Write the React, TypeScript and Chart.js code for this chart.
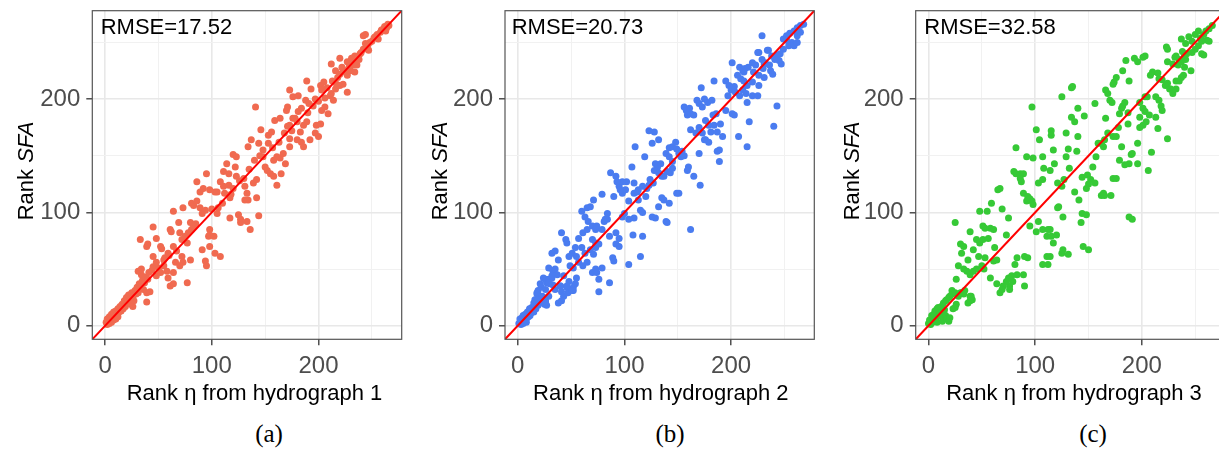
import React, { useEffect, useRef } from "react";
import { Chart, registerables } from "chart.js";

Chart.register(...registerables);

const SANS = "'Liberation Sans', Arial, sans-serif";
const SERIF = "'Liberation Serif', 'Times New Roman', serif";

const axisMin = -12;
const axisMax = 278;
const gridValues = [0, 50, 100, 150, 200, 250];
const labelValues = [0, 100, 200];
const rmseLabels = ["RMSE=17.52", "RMSE=20.73", "RMSE=32.58"];
const xTitles = ["Rank η from hydrograph 1", "Rank η from hydrograph 2", "Rank η from hydrograph 3"];
const yTitleParts = ["Rank ", "SFA"];
const captions = ["(a)", "(b)", "(c)"];
const pointColors = ["#F06A50", "#4A7CF0", "#36C936"];
const lineColor = "#FF0000";

// [rank eta, rank SFA]
const hydrograph1: [number, number][] = [
  [1,3],[2,1],[2,6],[3,4],[4,8],[4,2],[5,5],[6,10],[6,3],[7,7],[8,12],[8,5],[9,9],[10,13],[10,6],[11,10],[12,15],[12,8],[13,12],[14,17],
  [15,13],[16,19],[17,15],[18,22],[19,17],[20,25],[21,20],[22,27],[23,23],[24,19],[25,29],[26,25],[26,17],[27,22],[28,31],[29,28],[30,34],[31,29],[32,37],[33,33],
  [34,45],[35,40],[36,32],[37,38],[38,43],[39,29],[39,21],[40,41],[41,47],[42,30],[44,49],[45,52],[31,48],[34,50],[48,44],[50,51],[52,47],
  [33,76],[39,70],[40,72],[45,87],[48,77],[52,70],[53,68],[45,61],[48,56],[55,53],[58,48],[59,42],[61,35],[64,37],[64,47],[66,56],[59,64],[64,70],[55,58],[64,101],
  [73,104],[61,85],[62,83],[69,91],[70,82],[72,76],[77,73],[67,66],[72,61],[73,56],[70,53],[77,38],[80,58],[81,85],[83,88],[80,91],[81,108],[86,127],[89,118],[83,106],
  [86,110],[89,104],[91,99],[92,121],[95,134],[94,102],[98,120],[91,67],[94,57],[95,53],[97,79],[98,80],[102,79],[98,70],[103,64],[108,61],[98,85],[103,118],[105,118],[105,99],
  [106,104],[108,127],[111,123],[111,136],[116,134],[114,143],[112,117],[117,113],[120,121],[116,124],[117,95],[122,140],[123,132],[120,151],[123,149],[125,98],[127,94],[127,91],[130,130],[131,123],
  [133,117],[134,111],[131,111],[133,92],[136,85],[134,158],[137,164],[139,126],[142,129],[144,97],[142,113],[141,193],[146,173],[144,161],[148,149],[150,140],[152,137],[148,155],[153,161],[153,168],
  [156,171],[155,134],[158,132],[158,146],[161,149],[159,181],[164,183],[161,124],[165,134],[164,148],[167,152],[169,143],[170,190],[171,193],[173,177],[171,176],[173,165],[176,183],[178,183],[181,189],
  [173,208],[176,202],[181,203],[173,158],[180,164],[184,162],[186,177],[189,180],[183,171],[184,192],[188,199],[191,196],[186,158],[192,164],[197,170],[189,216],[193,209],[197,200],[198,177],[202,178],
  [200,167],[202,212],[205,215],[203,208],[203,190],[206,193],[209,187],[206,201],[211,203],[212,205],[214,199],[216,209],[212,231],[216,225],[220,222],[220,236],[217,213],[220,212],[223,213],[227,206],
  [223,226],[227,221],[230,225],[227,233],[231,236],[234,238],[233,230],[236,230],[234,224],[239,240],[242,244],[244,249],[242,256],[244,257],[245,245],[248,250],[252,254],[255,257],[258,259],[261,262],
  [264,263],[266,265],[56,60],[60,62],[75,79],[78,82],[85,90],[100,103],[110,108],[118,116],[126,128],[135,138],[140,146],[145,150],[157,157],[163,162],[168,170],[175,172],[180,180],[190,188],
  [195,194],[200,198],[208,210],[213,216],[218,219],[225,224],[229,229],[232,233],[237,237],[240,241],[246,247],[250,251],[253,255],[256,253],[259,261],[262,264],[263,260],[265,266],[247,243],[238,235],
  [235,233],[222,228],
];

const hydrograph2: [number, number][] = [
  [1,2],[2,6],[3,1],[4,7],[5,2],[5,9],[6,4],[7,10],[8,3],[8,6],[9,12],[10,8],[11,15],[11.5,9],[12,11],[13,16],[14,13],[15,20],[15,12],[16,23],
  [17,15],[18,28],[19,31],[19,18],[21,26],[22,34],[22,21],[24,23],[24,42],[26,20],[26,41],[27,18],[27,38],[29,41],[30,37],[32,42],[33,36],[33,48],[35,50],[37,45],
  [38,20],[40,35],[41,30],[43,26],[46,34],[47,29],[51,31],[52,34],[54,37],[55,42],
  [41,82],[45,76],[46,73],[32,64],[35,66],[38,58],[48,61],[51,64],[54,69],[49,53],[52,51],[57,56],[55,61],[43,44],[48,39],[51,32],[52,31],[40,35],[41,22],[46,35],
  [29,51],[32,44],[29,38],[35,32],[21,37],[26,32],[29,26],[23,26],[26,22],[25,19],[18,29],[19,23],
  [71,111],[79,116],[60,101],[65,104],[68,105],[63,96],[66,92],[57,77],[61,82],[65,85],[70,88],[73,85],[74,88],[70,76],[73,73],[79,85],[81,92],[84,94],[60,69],[63,64],
  [68,67],[71,63],[73,69],[76,72],[61,53],[65,56],[70,47],[73,50],[74,47],[79,51],[76,41],[76,30],[86,38],
  [92,82],[95,77],[92,72],[95,70],[89,60],[90,57],[86,79],[82,94],[84,99],[109,95],[104,94],[108,80],[117,79],[104,54],[115,61],
  [113,111],[115,102],[117,100],[120,114],[121,121],[123,124],[113,120],[117,123],[109,117],[112,118],[107,140],[109,126],[102,127],[98,117],[101,120],[104,110],[95,123],[96,120],[98,127],[92,132],
  [93,127],[87,135],[90,114],[98,96],[100,99],
  [128,171],[132,164],[126,161],[123,172],[119,149],[110,158],[129,143],[131,140],[128,137],[132,135],[135,132],[134,143],[137,132],[124,129],[127,126],[135,113],[137,111],[142,108],[139,92],[140,91],
  [126,96],[129,95],[132,105],[149,117],[151,117],
  [142,157],[145,158],[148,162],[139,152],[142,149],[145,145],[140,136],[143,135],[145,139],[149,156],[151,152],[153,149],[156,150],[154,154],[165,132],[160,140],[159,137],[171,124],[162,85],
  [156,193],[158,190],[161,192],[159,186],[162,187],[165,186],[162,173],[167,170],[170,175],[173,170],[175,164],[176,181],[179,177],[181,171],[183,186],[186,187],[184,177],[187,171],[190,178],[192,167],
  [176,164],[179,162],[187,154],[189,155],[189,145],[170,152],
  [168,199],[170,196],[173,193],[172,210],[175,200],[178,197],[182,199],[184,216],
  [195,216],[198,212],[200,208],[197,203],[203,211],[204,206],[201,187],[203,186],[195,190],[207,167],[215,158],[217,180],[240,176],[243,194],
  [201,232],[208,228],[211,225],[213,227],[216,228],[206,221],[209,218],[212,224],[220,232],[223,230],[221,224],[226,221],[229,235],[232,232],[236,230],[237,225],[239,222],[231,219],[226,212],[220,215],
  [220,203],[225,203],[212,216],[215,212],[211,208],[208,203],[214,205],[215,197],[229,256],[226,241],[234,243],
  [243,238],[245,234],[247,231],[249,253],[252,256],[255,258],[259,260],[262,263],[265,265],[268,266],[262,256],[257,250],[254,247],[259,247],[262,250],[265,259],[249,244],[246,240],[243,239],[252,252],
  [241,235],[238,238],[235,243],[231,231],[230,227],[225,241],
];

const hydrograph3: [number, number][] = [
  [0,2],[1,5],[2,1],[3,6],[3,9],[4,3],[5,10],[6,13],[7,6],[8,15],[8,3],[9,16],[10,9],[11,12],[12,17],[12,9],[13,4],[14,20],[15,14],[16,22],
  [16,9],[17,23],[17,6],[19,25],[19,4],[20,26],[20,7],[22,28],[23,15],[25,16],[26,19],[22,31],[25,29],[28,26],[31,29],[34,31],[39,26],[41,23],[37,20],[30,29],
  [33,28],[39,22],[40,26],
  [125,202],[134,210],[135,211],[97,193],[140,192],[146,185],[134,184],[137,180],[156,196],[140,167],[139,154],[129,170],[115,172],[115,168],[101,173],[104,164],[117,155],[131,156],[129,149],[107,149],
  [108,139],[118,143],[132,139],[98,148],[92,149],[82,157],[80,136],[82,134],[86,134],[89,134],[86,130],[87,127],[89,117],[93,114],[95,111],[92,110],[97,110],[98,107],[95,112],[103,126],
  [107,129],[114,137],[121,126],[125,123],[127,129],[144,131],[149,133],[152,129],[150,125],[154,140],[157,149],[159,161],[162,161],[164,158],[165,164],[168,170],[148,121],[156,126],[162,115],[164,117],
  [165,115],[171,115],[173,130],[137,118],[141,111],[144,99],[148,98],[143,91],[145,70],[150,67],[121,104],[122,105],[126,96],[125,64],[126,67],[131,63],[107,85],[111,79],[112,85],[114,85],
  [115,79],[120,80],[117,73],[111,61],[114,61],[112,54],[103,92],[95,88],[101,83],[107,54],[93,60],[90,61],[83,60],[81,54],[83,45],[79,39],[76,35],[73,39],[75,42],[78,44],
  [76,32],[70,35],[67,29],[69,32],[64,37],[89,45],[90,35],[61,57],[64,58],[58,42],[62,69],[73,80],[75,95],[69,103],[58,86],[61,85],[53,86],[51,88],[48,101],[55,101],
  [59,108],[65,120],[67,121],[39,83],[25,91],[30,72],[33,70],[31,64],[37,58],[42,67],[45,76],[48,73],[51,76],[56,77],[47,61],[53,60],[33,50],[36,48],[39,45],[42,48],
  [45,50],[28,53],[26,41],[50,53],[52,50],
  [203,238],[201,237],[193,236],[196,233],[185,234],[182,225],[188,216],[176,219],[174,215],[173,213],[166,208],[168,205],[170,199],[172,197],[184,197],[182,194],[181,192],[179,187],[187,188],[187,178],
  [166,183],[198,197],[201,192],[198,184],[201,177],[198,175],[203,202],[205,202],[203,189],[204,180],[207,186],[210,224],[208,221],[215,223],[216,218],[219,217],[213,202],[216,199],[218,194],[219,190],
  [213,184],[215,174],[224,214],[226,209],[222,212],[227,209],[229,205],[232,209],[232,216],[235,216],[237,219],[239,221],[234,230],[231,237],[237,233],[240,228],[246,225],[224,233],[235,235],[241,235],
  [242,240],[209,153],[206,137],[224,165],[196,161],[190,151],[191,152],[196,143],[188,143],[184,142],[179,146],[176,130],[181,158],[188,96],[191,94],[173,167],[176,167],[178,175],
  [223,246],[224,244],[237,253],[241,249],[244,255],[247,251],[250,257],[253,260],[255,254],[258,257],[260,260],[263,262],[266,265],[261,252],[256,251],[253,247],[250,244],[247,241],[256,240],[258,239],
  [263,251],[238,242],[240,238],[232,238],[229,231],
];

const panelSeries = [hydrograph1, hydrograph2, hydrograph3];

// canvas placement for each panel (pixels on the page)
const panelLayouts = [
  { left: 0, width: 405, yAxisWidth: 92.3, padRight: 3.3, rmseX: 100.7, xTitleX: 254.5, yTitleX: 24, captionX: 269 },
  { left: 405, width: 410, yAxisWidth: 100, padRight: 0.7, rmseX: 106.7, xTitleX: 255.8, yTitleX: 33.3, captionX: 670 },
  { left: 815, width: 415, yAxisWidth: 100.7, padRight: 4.9, rmseX: 109.3, xTitleX: 259, yTitleX: 35, captionX: 1093 },
];

const CANVAS_H = 410;
const PAD_TOP = 10.7;
const X_AXIS_H = 70.7;

const isMajor = (v: any) => labelValues.includes(Number(v));

const decorPlugin = {
  id: "panelDecor",
  afterDraw(chart: any, _args: any, opts: any) {
    const { ctx, chartArea: a } = chart;
    ctx.save();
    ctx.strokeStyle = "#555555";
    ctx.lineWidth = 1.2;
    ctx.strokeRect(a.left, a.top, a.right - a.left, a.bottom - a.top);

    ctx.fillStyle = "#000000";
    ctx.font = `22px ${SANS}`;
    ctx.textBaseline = "alphabetic";
    ctx.textAlign = "left";
    ctx.fillText(opts.rmse, opts.rmseX, 34);

    ctx.textAlign = "center";
    ctx.fillText(opts.xTitle, opts.xTitleX, 400);

    ctx.translate(opts.yTitleX, 171);
    ctx.rotate(-Math.PI / 2);
    const normal = `22px ${SANS}`;
    const italic = `italic 22px ${SANS}`;
    ctx.font = normal;
    const w1 = ctx.measureText(yTitleParts[0]).width;
    ctx.font = italic;
    const w2 = ctx.measureText(yTitleParts[1]).width;
    const start = -(w1 + w2) / 2;
    ctx.textAlign = "left";
    ctx.font = normal;
    ctx.fillText(yTitleParts[0], start, 8.7);
    ctx.font = italic;
    ctx.fillText(yTitleParts[1], start + w1, 8.7);
    ctx.restore();
  },
};

function makeScale(axis: "x" | "y", layout: any) {
  return {
    type: "linear",
    min: axisMin,
    max: axisMax,
    afterBuildTicks: (s: any) => {
      s.ticks = gridValues.map((v) => ({ value: v }));
    },
    afterFit: (s: any) => {
      if (axis === "x") s.height = X_AXIS_H;
      else s.width = layout.yAxisWidth;
    },
    ticks: {
      autoSkip: false,
      maxRotation: 0,
      minRotation: 0,
      padding: axis === "x" ? 7 : 6,
      color: "#4D4D4D",
      font: axis === "x" ? { family: SANS, size: 24 } : { family: SANS, size: 24, lineHeight: 0.1 },
      callback: (v: any) => (isMajor(v) ? String(v) : ""),
    },
    grid: {
      color: (c: any) => (isMajor(c.tick?.value) ? "#E8E8E8" : "#F1F1F1"),
      lineWidth: (c: any) => (isMajor(c.tick?.value) ? 1.6 : 1.0),
      tickLength: 6,
      tickWidth: 1.3,
      tickColor: (c: any) => (isMajor(c.tick?.value) ? "#333333" : "rgba(0,0,0,0)"),
    },
    border: { display: false },
  };
}

function Panel({ index }: { index: number }) {
  const ref = useRef<HTMLCanvasElement>(null);
  const layout = panelLayouts[index];
  useEffect(() => {
    if (!ref.current) return;
    const identityLine = [axisMin, axisMax].map((v) => ({ x: v, y: v }));
    const chart = new Chart(ref.current, {
      type: "scatter",
      data: {
        datasets: [
          {
            type: "line",
            data: identityLine,
            borderColor: lineColor,
            borderWidth: 2,
            pointRadius: 0,
            fill: false,
          } as any,
          {
            data: panelSeries[index].map(([x, y]) => ({ x, y })),
            backgroundColor: pointColors[index],
            borderWidth: 0,
            pointRadius: 3.5,
            pointHoverRadius: 3.5,
          },
        ],
      },
      options: {
        animation: false,
        responsive: true,
        maintainAspectRatio: false,
        events: [],
        layout: {
          autoPadding: false,
          padding: { top: PAD_TOP, right: layout.padRight, bottom: 0, left: 0 },
        },
        plugins: {
          legend: { display: false },
          tooltip: { enabled: false },
          panelDecor: {
            rmse: rmseLabels[index],
            xTitle: xTitles[index],
            rmseX: layout.rmseX,
            xTitleX: layout.xTitleX,
            yTitleX: layout.yTitleX,
          },
        } as any,
        scales: {
          x: makeScale("x", layout) as any,
          y: makeScale("y", layout) as any,
        },
      },
      plugins: [decorPlugin],
    });
    return () => chart.destroy();
  }, [index]);
  return (
    <div style={{ position: "absolute", left: layout.left, top: 0, width: layout.width, height: CANVAS_H }}>
      <canvas ref={ref} />
    </div>
  );
}

export default function App() {
  return (
    <div
      style={{
        position: "absolute",
        left: 0,
        top: 0,
        width: 1219,
        height: 450,
        overflow: "hidden",
        background: "#FFFFFF",
      }}
    >
      {panelLayouts.map((_, i) => (
        <Panel key={i} index={i} />
      ))}
      {captions.map((c, i) => (
        <div
          key={c}
          style={{
            position: "absolute",
            left: panelLayouts[i].captionX - 50,
            top: 421,
            width: 100,
            textAlign: "center",
            fontFamily: SERIF,
            fontSize: 25,
            lineHeight: "25px",
            color: "#000",
          }}
        >
          {c}
        </div>
      ))}
    </div>
  );
}
